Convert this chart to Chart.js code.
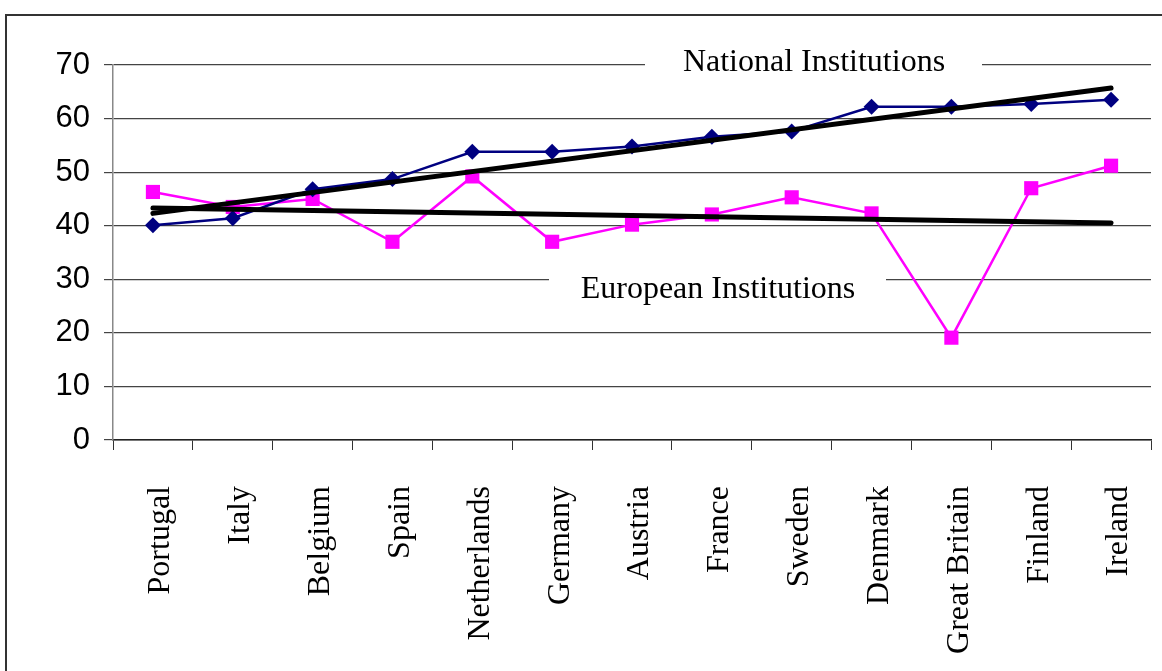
<!DOCTYPE html>
<html>
<head>
<meta charset="utf-8">
<script src="https://cdn.jsdelivr.net/npm/chart.js"></script>
<style>
  html, body { margin: 0; padding: 0; background: #fff; overflow: hidden; }
  #frame { position: absolute; left: 5px; top: 14px; width: 1200px; height: 700px; border: 2px solid #333; }
  #wrap { position: absolute; left: 0; top: 0; width: 1162px; height: 671px; }
</style>
</head>
<body>
<div id="frame"></div>
<div id="wrap"><canvas id="chart" width="1162" height="671"></canvas></div>
<script>
const countries = ['Portugal', 'Italy', 'Belgium', 'Spain', 'Netherlands', 'Germany', 'Austria',
  'France', 'Sweden', 'Denmark', 'Great Britain', 'Finland', 'Ireland'];
const national = [40.1, 41.4, 46.8, 48.7, 53.8, 53.8, 54.8, 56.6, 57.6, 62.2, 62.2, 62.7, 63.5];
const european = [46.3, 43.5, 45.0, 37.0, 49.2, 37.0, 40.2, 42.1, 45.3, 42.3, 19.1, 47.0, 51.2];
// trend lines: only the end points
const nationalTrend = [42.3, null, null, null, null, null, null, null, null, null, null, null, 65.7];
const europeanTrend = [43.3, null, null, null, null, null, null, null, null, null, null, null, 40.5];
const yTicks = [0, 10, 20, 30, 40, 50, 60, 70];

// white boxed captions sitting on the grid lines
const captions = {
  id: 'captions',
  beforeDatasetsDraw(chart) {
    const { ctx } = chart;
    const items = [
      { text: 'National Institutions', x: 814, y: 63, x0: 645, x1: 982 },
      { text: 'European Institutions', x: 718, y: 290, x0: 549, x1: 886 },
    ];
    ctx.save();
    ctx.font = '32px "Liberation Serif", "Times New Roman", serif';
    ctx.textAlign = 'center';
    ctx.textBaseline = 'middle';
    items.forEach((it) => {
      ctx.fillStyle = '#fff';
      ctx.fillRect(it.x0, it.y - 22, it.x1 - it.x0, 44);
      ctx.fillStyle = '#000';
      ctx.fillText(it.text, it.x, it.y);
    });
    ctx.restore();
  },
};

new Chart(document.getElementById('chart'), {
  type: 'line',
  data: {
    labels: countries,
    datasets: [{
      label: 'National trend',
      data: nationalTrend,
      spanGaps: true,
      borderColor: '#000',
      borderWidth: 5,
      pointRadius: 0,
      borderCapStyle: 'round',
    }, {
      label: 'European trend',
      data: europeanTrend,
      spanGaps: true,
      borderColor: '#000',
      borderWidth: 5,
      pointRadius: 0,
      borderCapStyle: 'round',
    }, {
      label: 'National Institutions',
      data: national,
      borderColor: '#000080',
      backgroundColor: '#000080',
      borderWidth: 2.5,
      pointStyle: 'rectRot',
      pointRadius: 8,
      pointBorderWidth: 0,
    }, {
      label: 'European Institutions',
      data: european,
      borderColor: '#ff00ff',
      backgroundColor: '#ff00ff',
      borderWidth: 2.5,
      pointStyle: 'rect',
      pointRadius: 10,
      pointBorderWidth: 0,
    }],
  },
  options: {
    responsive: false,
    animation: false,
    layout: { padding: { left: 0, top: 65, right: 11, bottom: 0 } },
    plugins: {
      legend: { display: false },
      tooltip: { enabled: false },
    },
    scales: {
      x: {
        offset: true,
        grid: {
          offset: true,
          drawOnChartArea: false,
          drawTicks: true,
          tickLength: 10,
          color: '#333',
        },
        border: { color: '#222', width: 1.5 },
        ticks: {
          autoSkip: false,
          minRotation: 90,
          maxRotation: 90,
          padding: 36,
          labelOffset: 8,
          color: '#000',
          font: { family: '"Liberation Serif", "Times New Roman", serif', size: 32 },
        },
        afterFit(scale) {
          scale.height = 231;
          scale.paddingLeft = 0;
          scale.paddingRight = 0;
        },
      },
      y: {
        min: 0,
        max: 70,
        afterBuildTicks(scale) { scale.ticks = yTicks.map((v) => ({ value: v })); },
        grid: { color: '#444', tickLength: 9, lineWidth: 1.2 },
        border: { color: '#888', width: 1.5 },
        ticks: {
          padding: 14,
          color: '#000',
          font: { family: '"Liberation Sans", Arial, sans-serif', size: 31 },
        },
        afterFit(scale) {
          scale.width = 113;
          scale.paddingTop = 0;
          scale.paddingBottom = 0;
        },
      },
    },
  },
  plugins: [captions],
});
</script>
</body>
</html>
